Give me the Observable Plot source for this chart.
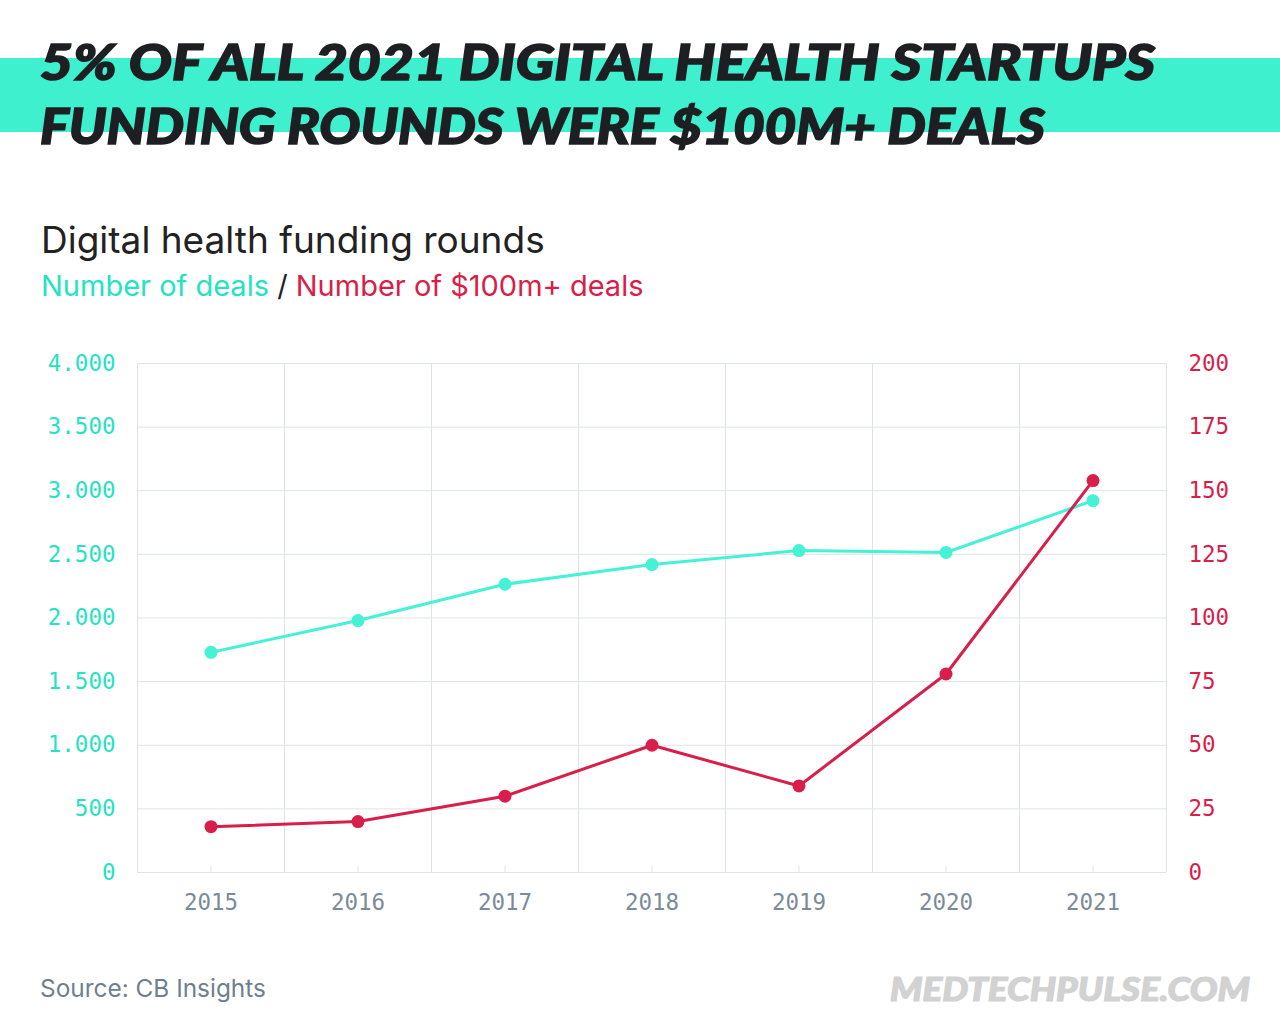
<!DOCTYPE html>
<html><head><meta charset="utf-8">
<script src="https://cdn.jsdelivr.net/npm/d3@7"></script>
<script src="https://cdn.jsdelivr.net/npm/@observablehq/plot@0.6"></script>
<style>
body{margin:0;background:#fff;}
#wrap{position:relative;width:1280px;height:1024px;overflow:hidden;font-family:Inter,"Noto Sans",sans-serif;background:#fff;}
.band{position:absolute;left:0;top:58px;width:1280px;height:74px;background:#3ef0ce;}
.title{position:absolute;left:40px;font-family:Lato,sans-serif;font-style:italic;font-weight:900;font-size:49px;line-height:1;color:#1d1f22;white-space:nowrap;transform-origin:0 0;-webkit-text-stroke:1.6px #1d1f22;}
.sub1{position:absolute;left:41px;top:217px;font-size:37px;color:#222;white-space:nowrap;}
.sub2{position:absolute;left:41px;top:268px;font-size:29px;white-space:nowrap;}
.teal{color:#25e3c1}.red{color:#d81e4a}.blk{color:#222}
#chart{position:absolute;left:0;top:330px;}
.src{position:absolute;left:40px;top:973px;font-size:24.4px;color:#6f7f8f;white-space:nowrap;}
.brand{position:absolute;left:890px;top:969px;font-family:Lato,sans-serif;font-style:italic;font-weight:900;font-size:32px;color:#d2d2d2;white-space:nowrap;transform-origin:0 0;-webkit-text-stroke:1.2px #d2d2d2;}
</style></head>
<body><div id="wrap">
<div class="band"></div>
<div class="title" id="t1" style="top:37px">5% OF ALL 2021 DIGITAL HEALTH STARTUPS</div>
<div class="title" id="t2" style="top:101px">FUNDING ROUNDS WERE $100M+ DEALS</div>
<div class="sub1">Digital health funding rounds</div>
<div class="sub2"><span class="teal">Number of deals</span> <span class="blk">/</span> <span class="red">Number of $100m+ deals</span></div>
<div id="chart"></div>
<div class="src">Source: CB Insights</div>
<div class="brand" id="brand">MEDTECHPULSE.COM</div>
</div>
<script>
const years = [2015, 2016, 2017, 2018, 2019, 2020, 2021];
const deals = [1730, 1980, 2265, 2420, 2530, 2515, 2922];
const bigDeals = [18, 20, 30, 50, 34, 78, 154];
const leftTicks = [0, 500, 1000, 1500, 2000, 2500, 3000, 3500, 4000];
const rightMax = 200;
const leftMax = 4000;
const ratio = leftMax / rightMax;

const teal = "#45f2d6", tealText = "#25e3c1", red = "#d81e4a", grid = "#dfe3e5";
const fmt = d3.formatLocale({decimal: ",", thousands: ".", grouping: [3], currency: ["", ""]}).format(",d");

const rows = years.map((y, i) => ({year: y, deals: deals[i], big: bigDeals[i]}));
const edges = years.map(y => y - 0.5).concat([years[years.length - 1] + 0.5]);

const chart = Plot.plot({
  width: 1280,
  height: 620,
  marginTop: 33,
  marginBottom: 78,
  marginLeft: 137,
  marginRight: 114,
  style: {fontFamily: "'DejaVu Sans Mono', monospace", fontSize: "22.5px", background: "transparent"},
  x: {type: "linear", domain: [edges[0], edges[edges.length - 1]]},
  y: {domain: [0, leftMax]},
  marks: [
    Plot.ruleY(leftTicks, {stroke: grid, strokeWidth: 1}),
    Plot.ruleX(edges, {stroke: grid, strokeWidth: 1}),
    Plot.ruleX(years, {x: d => d, y1: 0, y2: 50, stroke: grid, strokeWidth: 1}),
    Plot.axisX({ticks: years, tickFormat: d => String(d), tickSize: 0, tickPadding: 22, fill: "#7b8b99", label: null}),
    Plot.axisY({anchor: "left", ticks: leftTicks, tickFormat: fmt, tickSize: 0, tickPadding: 22, fill: tealText, label: null}),
    Plot.axisY({anchor: "right", ticks: leftTicks, tickFormat: d => String(d / ratio), tickSize: 0, tickPadding: 22, fill: red, label: null}),
    Plot.line(rows, {x: "year", y: "deals", stroke: teal, strokeWidth: 3}),
    Plot.dot(rows, {x: "year", y: "deals", fill: teal, r: 6.5}),
    Plot.line(rows, {x: "year", y: d => d.big * ratio, stroke: red, strokeWidth: 3}),
    Plot.dot(rows, {x: "year", y: d => d.big * ratio, fill: red, r: 6.5})
  ]
});
document.getElementById("chart").appendChild(chart);

// stretch heavy italic lines to the reference widths
function fit(id, w) {
  const el = document.getElementById(id);
  const r = el.getBoundingClientRect();
  el.style.transform = `scaleX(${w / r.width})`;
}
fit("t1", 1115);
fit("t2", 1005);
fit("brand", 360);
</script>
</body></html>
